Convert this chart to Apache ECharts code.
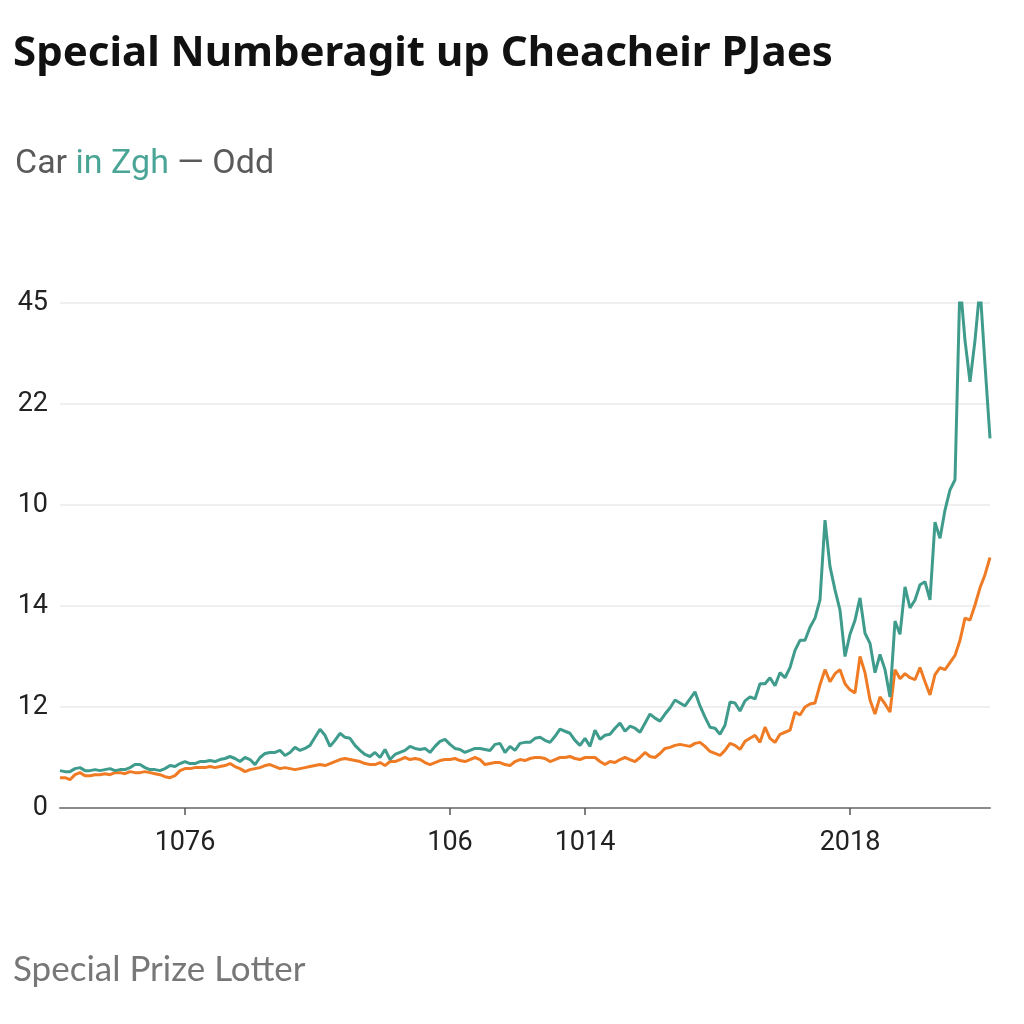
<!DOCTYPE html>
<html>
<head>
<meta charset="utf-8">
<script src="https://cdn.jsdelivr.net/npm/echarts@6/dist/echarts.min.js"></script>
<style>
html,body{margin:0;padding:0;background:#fff;}
#chart{width:1024px;height:1024px;}
</style>
</head>
<body>
<div id="chart"></div>
<script>
// ---- data ----
const titleText = 'Special Numberagit up Cheacheir PJaes';
const footerText = 'Special Prize Lotter';
const yTickLabels = ['0', '12', '14', '10', '22', '45'];
const xTickIndex = [25, 78, 105, 158];
const xTickLabels = ['1076', '106', '1014', '2018'];

const tealValues = [
  37,36,36,39,40,37,37,38,37,38,
  39,37,38,38,40,43,43,40,38,38,
  37,39,42,41,44,46,44,44,46,46,
  47,46,48,49,51,49,46,50,48,43,
  50,54,55,55,57,52,55,60,57,59,
  62,70,78,72,61,67,74,70,69,62,
  57,53,51,55,50,58,48,53,55,57,
  61,59,58,59,55,61,66,68,63,59,
  58,55,57,59,59,58,57,63,64,55,
  61,57,64,65,65,69,70,67,65,71,
  78,76,74,67,62,69,61,77,68,72,
  73,79,84,76,81,79,75,84,93,89,
  86,93,99,107,104,101,108,115,101,90,
  80,79,73,82,105,104,96,106,110,108,
  123,123,129,121,134,129,139,156,166,166,
  179,188,206,285,239,216,196,150,172,186,
  208,173,163,134,152,137,110,185,172,219,
  198,206,221,224,206,283,267,295,315,325,
  521,463,422,463,516,439,366
];

const orangeValues = [
  30,30,28,33,35,32,32,33,33,34,
  33,35,35,34,36,35,35,36,35,34,
  33,31,30,32,37,39,39,40,40,40,
  41,40,41,42,44,41,39,36,38,39,
  40,42,43,41,39,40,39,38,39,40,
  41,42,43,42,44,46,48,49,48,47,
  46,44,43,43,45,42,46,46,48,50,
  48,49,48,45,43,45,47,48,48,49,
  47,46,48,50,48,43,44,45,45,43,
  42,46,48,47,49,50,50,49,46,48,
  50,50,51,49,48,50,50,50,46,43,
  46,45,48,50,48,46,50,55,51,50,
  54,59,60,62,63,62,61,64,65,61,
  56,54,52,57,64,62,58,66,69,72,
  65,80,69,65,73,75,77,95,92,100,
  103,104,122,137,125,133,137,123,117,114,
  150,134,107,93,110,103,95,137,128,133,
  129,127,139,125,112,132,139,137,144,151,
  166,188,186,201,218,231,248
];

const categories = tealValues.map((_, i) => String(i));

const TEAL = '#3f9c8c';
const ORANGE = '#ef7b24';

const chart = echarts.init(document.getElementById('chart'), null, {renderer: 'canvas'});
chart.setOption({
  backgroundColor: '#ffffff',
  animation: false,
  title: [
    {
      text: titleText,
      left: 8, top: 28,
      textStyle: {fontFamily: 'Noto Sans', fontWeight: 'bold', fontSize: 42, color: '#111'}
    },
    {
      text: '{g|Car }{t|in Zgh}{g| — Odd}',
      left: 10, top: 142,
      textStyle: {
        fontWeight: 'normal',
        rich: {
          g: {fontFamily: 'Roboto', fontWeight: 'normal', fontSize: 34, color: '#5a5a5a'},
          t: {fontFamily: 'Roboto', fontWeight: 'normal', fontSize: 34, color: '#4aa596'}
        }
      }
    },
    {
      text: footerText,
      left: 8, top: 947,
      textStyle: {fontFamily: 'Lato', fontWeight: 'normal', fontSize: 35, color: '#777'}
    }
  ],
  grid: {left: 60, right: 34, top: 303, bottom: 216, containLabel: false},
  xAxis: {
    type: 'category',
    data: categories,
    boundaryGap: false,
    axisLine: {show: true, lineStyle: {color: '#8a8a8a', width: 2}},
    axisTick: {
      show: true, length: 7,
      lineStyle: {color: '#555', width: 1.5},
      interval: (i) => xTickIndex.includes(i)
    },
    axisLabel: {
      interval: (i) => xTickIndex.includes(i),
      formatter: (v, i) => {
        const k = xTickIndex.indexOf(i);
        return k >= 0 ? xTickLabels[k] : '';
      },
      margin: 22,
      fontFamily: 'Roboto', fontSize: 27, color: '#222'
    },
    splitLine: {show: false}
  },
  yAxis: {
    type: 'value',
    min: 0, max: 500, interval: 100,
    axisLine: {show: false},
    axisTick: {show: false},
    axisLabel: {
      formatter: (v) => yTickLabels[Math.round(v / 100)],
      margin: 12,
      fontFamily: 'Roboto', fontSize: 27, color: '#222'
    },
    splitLine: {show: true, lineStyle: {color: '#efefef', width: 2}}
  },
  series: [
    {
      name: 'Odd', type: 'line', data: orangeValues,
      showSymbol: false, smooth: false,
      lineStyle: {color: ORANGE, width: 3},
      itemStyle: {color: ORANGE}, z: 2
    },
    {
      name: 'in Zgh', type: 'line', data: tealValues,
      showSymbol: false, smooth: false,
      lineStyle: {color: TEAL, width: 3},
      itemStyle: {color: TEAL}, z: 3
    }
  ]
});
</script>
</body>
</html>
